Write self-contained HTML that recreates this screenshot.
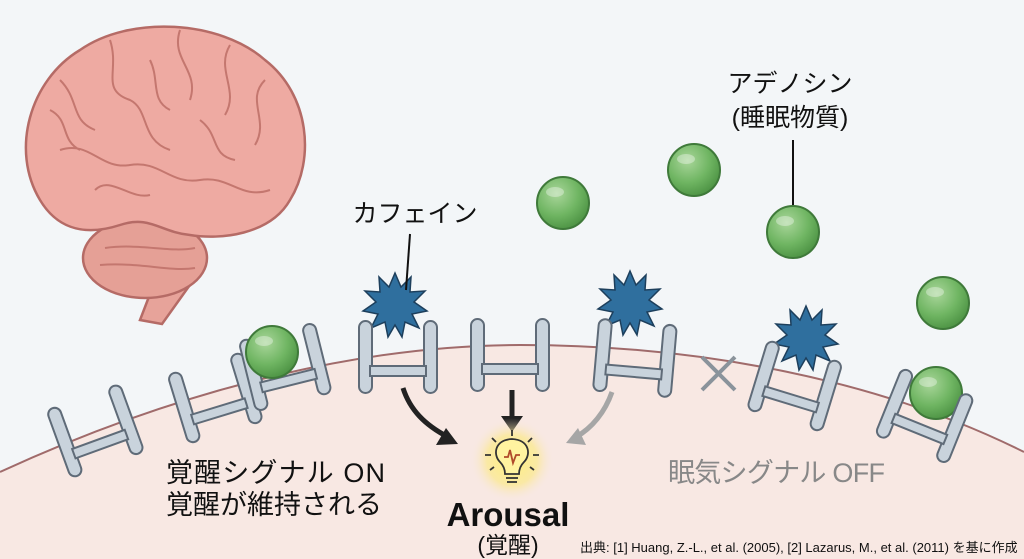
<!DOCTYPE html>
<html><head><meta charset="utf-8"><style>
html,body{margin:0;padding:0;background:#f3f6f8;}
svg{display:block}
text{font-family:"Liberation Sans","Noto Sans CJK JP",sans-serif;}
</style></head><body>
<svg width="1024" height="559" viewBox="0 0 1024 559" xmlns="http://www.w3.org/2000/svg">
<defs>
<radialGradient id="ball" cx="0.38" cy="0.32" r="0.7">
<stop offset="0" stop-color="#a9d69a"/><stop offset="0.6" stop-color="#6fb562"/><stop offset="1" stop-color="#4e9445"/>
</radialGradient>
<radialGradient id="glow" cx="0.5" cy="0.5" r="0.5">
<stop offset="0" stop-color="#fff27a"/><stop offset="0.6" stop-color="#fbe98a" stop-opacity="0.7"/><stop offset="1" stop-color="#f8e8e3" stop-opacity="0"/>
</radialGradient>
<g id="H">
<rect x="-39" y="-35" width="13" height="72" rx="6.5" fill="#c9d3dc" stroke="#5f6b78" stroke-width="2"/>
<rect x="26" y="-35" width="13" height="72" rx="6.5" fill="#c9d3dc" stroke="#5f6b78" stroke-width="2"/>
<rect x="-28" y="10" width="56" height="10" fill="#c9d3dc" stroke="#5f6b78" stroke-width="2"/>
</g>
<polygon id="star" fill="#2f6f9e" stroke="#1d3f5c" stroke-width="1.5" points="0,-32 6,-18 16,-28 15,-13 30,-14 19,-3 32,6 17,9 24,23 10,17 7,32 0,20 -7,32 -10,17 -24,23 -17,9 -32,6 -19,-3 -30,-14 -15,-13 -16,-28 -6,-18"/>
<g id="ball1"><circle r="26" fill="url(#ball)" stroke="#3f7a3a" stroke-width="2"/><ellipse cx="-8" cy="-11" rx="9" ry="5" fill="#fff" opacity="0.35"/></g>
</defs>
<rect width="1024" height="559" fill="#f3f6f8"/>
<path d="M0,472 C200,380 380,345 520,345 C700,345 880,380 1024,452 L1024,559 L0,559 Z" fill="#f8e8e3"/>
<path d="M0,472 C200,380 380,345 520,345 C700,345 880,380 1024,452" fill="none" stroke="#a06b6b" stroke-width="2"/>

<!-- brain -->
<g stroke="#b56b66" stroke-width="2.5" fill="#eeaaa2">
<path d="M160,268 L140,320 L162,324 L192,282 Z" fill="#e7a39a"/>
<ellipse cx="145" cy="258" rx="62" ry="40" fill="#e5a096"/>
<path d="M40,200 C10,150 30,80 80,50 C130,15 220,20 265,60 C310,95 315,160 290,200 C270,235 220,240 190,235 C160,232 150,215 120,225 C80,238 55,225 40,200 Z"/>
</g>
<g stroke="#c4776f" stroke-width="2" fill="none">
<path d="M60,80 C80,100 70,120 95,130 M110,40 C120,70 100,90 130,100 C150,110 140,140 170,150 M180,30 C170,60 200,70 190,100 M230,45 C215,70 240,90 225,115 M265,80 C245,100 270,120 255,145 M60,150 C90,140 100,170 130,165 C160,160 170,185 200,180 C230,175 240,200 270,190 M50,110 C70,120 60,140 80,150 M150,60 C160,80 150,100 170,110 M200,120 C220,135 210,155 235,160 M95,190 C110,175 130,200 150,195 M105,248 C140,243 170,253 195,248 M100,265 C140,262 170,272 195,268"/>
</g>

<!-- receptors -->
<use href="#H" transform="translate(95,430) rotate(-20)"/>
<use href="#H" transform="translate(215,397) rotate(-17)"/>
<use href="#H" transform="translate(285,366) rotate(-14)"/>
<use href="#ball1" transform="translate(272,352)"/>
<use href="#star" transform="translate(395,305)"/>
<use href="#H" transform="translate(398,356)"/>
<use href="#H" transform="translate(510,354)"/>
<use href="#star" transform="translate(630,303)"/>
<use href="#H" transform="translate(635,357) rotate(5)"/>
<use href="#star" transform="translate(806,338)"/>
<use href="#H" transform="translate(795,385) rotate(17)"/>
<use href="#ball1" transform="translate(936,393)"/>
<use href="#H" transform="translate(925,415) rotate(22)"/>

<path d="M702,357 L735,390 M735,357 L702,390" stroke="#8a939b" stroke-width="4"/>

<use href="#ball1" transform="translate(563,203)"/>
<use href="#ball1" transform="translate(694,170)"/>
<use href="#ball1" transform="translate(793,232)"/>
<use href="#ball1" transform="translate(943,303)"/>

<text x="790" y="92" font-size="25" text-anchor="middle" fill="#111">アデノシン</text>
<text x="790" y="126" font-size="25" text-anchor="middle" fill="#111">(睡眠物質)</text>
<line x1="793" y1="140" x2="793" y2="205" stroke="#111" stroke-width="2"/>
<text x="415" y="222" font-size="25" text-anchor="middle" fill="#111">カフェイン</text>
<line x1="410" y1="234" x2="406" y2="290" stroke="#111" stroke-width="2"/>

<path d="M403,388 C410,410 425,425 448,437" fill="none" stroke="#222" stroke-width="5"/>
<polygon points="458,444 436,445 446,428" fill="#222"/>
<line x1="512" y1="390" x2="512" y2="418" stroke="#222" stroke-width="5"/>
<polygon points="501,416 523,416 512,432" fill="#222"/>
<path d="M612,392 C605,412 592,428 576,437" fill="none" stroke="#a6a6a6" stroke-width="5"/>
<polygon points="566,443 578,428 586,445" fill="#a6a6a6"/>

<circle cx="512" cy="460" r="42" fill="url(#glow)"/>
<g stroke="#333" stroke-width="1.8" fill="none">
<path d="M500,462 C493,455 494,440 512,439 C530,440 531,455 524,462 C520,466 519,470 519,474 L505,474 C505,470 504,466 500,462 Z" fill="#fff3a0"/>
<path d="M504,457 L508,457 L510,450 L513,463 L516,455 L520,455" stroke="#b04a2a"/>
<line x1="506" y1="478" x2="518" y2="478"/><line x1="507" y1="482" x2="517" y2="482"/>
<path d="M512,430 V436 M492,438 L496,442 M532,438 L528,442 M485,455 H491 M533,455 H539 M490,470 L494,467 M534,470 L530,467"/>
</g>
<text x="508" y="526" font-size="33" font-weight="bold" text-anchor="middle" fill="#111">Arousal</text>
<text x="508" y="553" font-size="23" text-anchor="middle" fill="#111">(覚醒)</text>

<text x="166" y="482" font-size="27" fill="#111" textLength="219">覚醒シグナル ON</text>
<text x="166" y="514" font-size="27" fill="#111">覚醒が維持される</text>
<text x="668" y="482" font-size="27" fill="#888" textLength="217">眠気シグナル OFF</text>
<text x="580" y="552" font-size="13" fill="#111">出典: [1] Huang, Z.-L., et al. (2005), [2] Lazarus, M., et al. (2011) を基に作成</text>
</svg>
</body></html>
